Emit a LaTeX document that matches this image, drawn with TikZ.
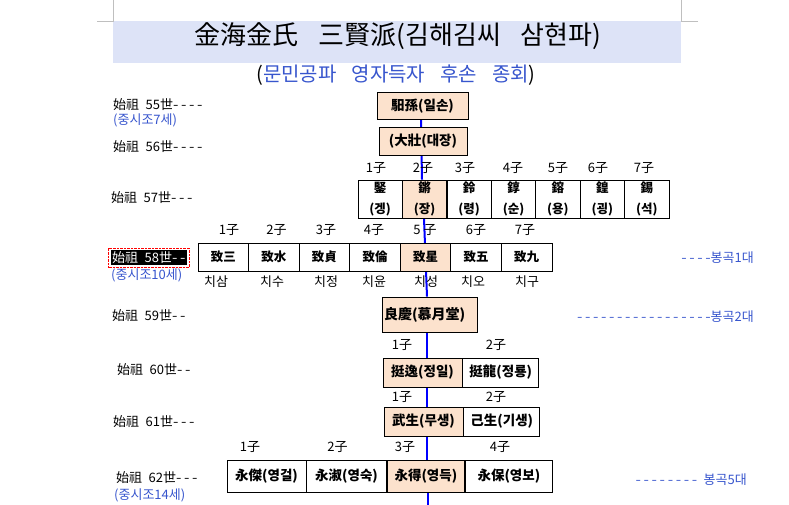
\documentclass[tikz,border=0pt]{standalone}
\usepackage{fontspec}
\setmainfont{Noto Sans CJK KR}
\newfontfamily\dashfont[FakeStretch=1.2,LetterSpace=20]{Noto Sans CJK KR}
\usetikzlibrary{backgrounds,fit}

\definecolor{peach}{RGB}{252,226,205}
\definecolor{bandblue}{RGB}{221,227,247}
\definecolor{textblue}{RGB}{55,85,205}
\newcommand{\dashes}[1]{{\dashfont #1}}

\begin{document}
\begin{tikzpicture}[x=1pt, y=-1pt,
    cell/.style={draw, fill=white, line width=0.8pt, inner sep=0pt, font=\bfseries\fontsize{13.5}{16}\selectfont},
    heir/.style={cell, fill=peach},
    small/.style={font=\bfseries\fontsize{12.5}{21}\selectfont},
    gen/.style={anchor=west, inner sep=0pt, font=\fontsize{13}{15}\selectfont},
    jung/.style={gen, text=textblue},
    son/.style={inner sep=0pt, font=\fontsize{13}{15}\selectfont},
    reading/.style={inner sep=0pt, font=\fontsize{13}{15}\selectfont},
    bong/.style={anchor=east, inner sep=0pt, text=textblue, font=\fontsize{13}{15}\selectfont},
    kline/.style={draw=blue, line width=2pt}]

    \useasboundingbox (0,0) rectangle (789,505);

    % 제목
    \fill[bandblue] (113,21) rectangle (681,63);
    \draw[gray!50] (97,21) -- (113,21) -- (113,0);
    \draw[gray!50] (698,21) -- (681,21) -- (681,0);
    \node[font=\fontsize{26}{30}\selectfont] (title) at (398,36) {金海金氏\hspace{0.75em}三賢派(김해김씨\hspace{0.75em}삼현파)};
    \node[font=\fontsize{20}{24}\selectfont] (subtitle) at (396,75) {(\textcolor{textblue}{문민공파\hspace{0.75em}영자득자\hspace{0.75em}후손\hspace{0.75em}종회})};

    % 55世, 56世
    \node[heir, minimum width=91, minimum height=27] (n55) at (422.5,106) {馹孫(일손)};
    \node[gen] (g55) at (113,105) {始祖\hspace{0.5em}55世\dashes{----}};
    \node[jung] (j55) at (113,120) {(중시조7세)};
    \node[heir, minimum width=88, minimum height=28] (n56) at (423,141) {(大壯(대장)};
    \node[gen] (g56) at (113,147) {始祖\hspace{0.5em}56世\dashes{----}};

    % 57世
    \node[gen] (g57) at (111,198) {始祖\hspace{0.5em}57世\dashes{---}};
    \node[son] (s57a) at (376,168) {1子};
    \node[son] (s57b) at (423,168) {2子};
    \node[son] (s57c) at (465,168) {3子};
    \node[son] (s57d) at (513,168) {4子};
    \node[son] (s57e) at (558,168) {5子};
    \node[son] (s57f) at (598,168) {6子};
    \node[son] (s57g) at (644,168) {7子};
    \node[cell, small, align=center, minimum width=44.4, minimum height=38] (c57a) at (380.2,199) {鋻\\(겡)};
    \node[heir, small, align=center, minimum width=44.4, minimum height=38] (c57b) at (424.6,199) {鏘\\(장)};
    \node[cell, small, align=center, minimum width=44.4, minimum height=38] (c57c) at (469.1,199) {鈴\\(령)};
    \node[cell, small, align=center, minimum width=44.4, minimum height=38] (c57d) at (513.5,199) {錞\\(순)};
    \node[cell, small, align=center, minimum width=44.4, minimum height=38] (c57e) at (557.9,199) {鎔\\(용)};
    \node[cell, small, align=center, minimum width=44.4, minimum height=38] (c57f) at (602.4,199) {鍠\\(굉)};
    \node[cell, small, align=center, minimum width=44.4, minimum height=38] (c57g) at (646.8,199) {錫\\(석)};

    % 58世
    \node[gen, fill=black, text=white, inner sep=1pt] (g58) at (111,257.5) {始祖\hspace{0.5em}58世\dashes{--}};
    \node[fit=(g58), draw=red, densely dotted, inner sep=2.5pt] (box58) {};
    \node[jung] (j58) at (111,275) {(중시조10세)};
    \node[bong] (b58) at (754,258) {\dashes{----}봉곡1대};
    \node[son] (s58a) at (229,230) {1子};
    \node[son] (s58b) at (276.5,230) {2子};
    \node[son] (s58c) at (326,230) {3子};
    \node[son] (s58d) at (374,230) {4子};
    \node[son] (s58e) at (425,230) {5 子};
    \node[son] (s58f) at (476,230) {6子};
    \node[son] (s58g) at (525,230) {7子};
    \node[cell, small, minimum width=50.6, minimum height=28] (c58a) at (223.3,257) {致三};
    \node[cell, small, minimum width=50.6, minimum height=28] (c58b) at (273.9,257) {致水};
    \node[cell, small, minimum width=50.6, minimum height=28] (c58c) at (324.4,257) {致貞};
    \node[cell, small, minimum width=50.6, minimum height=28] (c58d) at (375.0,257) {致倫};
    \node[heir, small, minimum width=50.6, minimum height=28] (c58e) at (425.6,257) {致星};
    \node[cell, small, minimum width=50.6, minimum height=28] (c58f) at (476.1,257) {致五};
    \node[cell, small, minimum width=50.6, minimum height=28] (c58g) at (526.7,257) {致九};
    \node[reading] (r58a) at (216,282) {치삼};
    \node[reading] (r58b) at (272,282) {치수};
    \node[reading] (r58c) at (326,282) {치정};
    \node[reading] (r58d) at (374,282) {치윤};
    \node[reading] (r58e) at (426,282) {치성};
    \node[reading] (r58f) at (473,282) {치오};
    \node[reading] (r58g) at (527,282) {치구};

    % 59世
    \node[heir, font=\bfseries\fontsize{14}{16}\selectfont, minimum width=95, minimum height=35, text width=91, align=left] (n59) at (429.5,314.5) {良慶(慕月堂)};
    \node[gen] (g59) at (112,316) {始祖\hspace{0.5em}59世\dashes{--}};
    \node[bong] (b59) at (754,317) {\dashes{-----------------}봉곡2대};

    % 60世
    \node[gen] (g60) at (117,370) {始祖\hspace{0.5em}60世\dashes{--}};
    \node[son] (s60a) at (402,345) {1子};
    \node[son] (s60b) at (496,345) {2子};
    \node[heir, minimum width=79, minimum height=29] (n60a) at (422.5,372.5) {挺逸(정일)};
    \node[cell, anchor=west, minimum width=76, minimum height=29] (n60b) at (n60a.east) {挺龍(정룡)};

    % 61世
    \node[gen] (g61) at (113,422) {始祖\hspace{0.5em}61世\dashes{---}};
    \node[son] (s61a) at (402,397) {1子};
    \node[son] (s61b) at (496,397) {2子};
    \node[heir, minimum width=79, minimum height=29] (n61a) at (423.5,421.5) {武生(무생)};
    \node[cell, anchor=west, minimum width=76, minimum height=29] (n61b) at (n61a.east) {己生(기생)};

    % 62世
    \node[gen] (g62) at (116,478) {始祖\hspace{0.5em}62世\dashes{---}};
    \node[jung] (j62) at (114,495) {(중시조14세)};
    \node[bong] (b62) at (747,480) {\dashes{--------}\hspace{0.5em}봉곡5대};
    \node[son] (s62a) at (250,447) {1子};
    \node[son] (s62b) at (337.5,447) {2子};
    \node[son] (s62c) at (405,447) {3子};
    \node[son] (s62d) at (500,447) {4子};
    \node[cell, minimum width=79, minimum height=32] (n62a) at (266.5,476) {永傑(영걸)};
    \node[cell, anchor=west, minimum width=79.5, minimum height=32] (n62b) at (n62a.east) {永淑(영숙)};
    \node[heir, anchor=west, minimum width=77.5, minimum height=32] (n62c) at (n62b.east) {永得(영득)};
    \node[cell, anchor=west, minimum width=87, minimum height=32] (n62d) at (n62c.east) {永保(영보)};

    % 종손 계통선
    \begin{scope}[on background layer]
        \draw[kline] (421,0 |- n55.south) -- (422,0 |- c57b.north);
        \draw[kline] (424,0 |- c57b.south) -- (427,0 |- n59.north);
        \draw[kline] (427,0 |- n59.south) -- (427,0 |- n62c.north);
        \draw[kline] (428,0 |- n62c.south) -- (428,505);
    \end{scope}
\end{tikzpicture}
\end{document}
